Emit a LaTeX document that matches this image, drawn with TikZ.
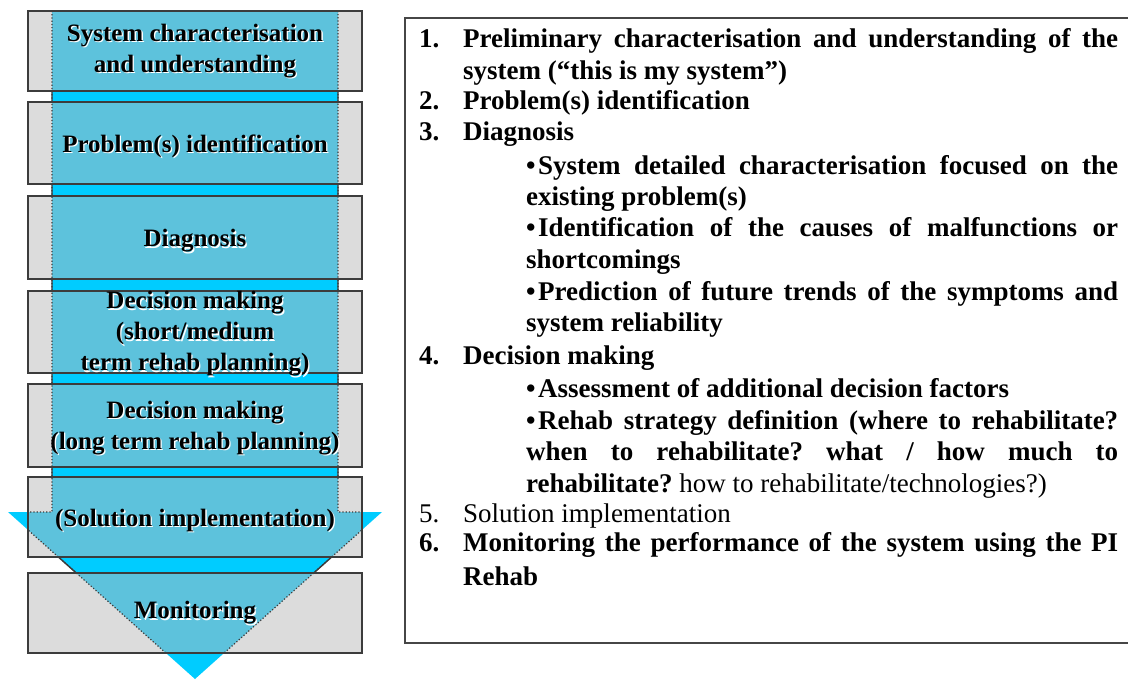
\documentclass[tikz,border=0pt]{standalone}
\usepackage{fontspec}
\setmainfont{Liberation Serif}
\frenchspacing
\definecolor{flowcyan}{RGB}{0,204,255}
\definecolor{boxgray}{RGB}{186,186,186}
\definecolor{edgegray}{RGB}{60,60,60}
\definecolor{framegray}{RGB}{70,70,70}
\begin{document}
\begin{tikzpicture}[x=1pt,y=-1pt,
  stagebox/.style={fill=boxgray,fill opacity=0.5},
  stageedge/.style={draw=edgegray,line width=1.4pt},
  stagetxt/.style={inner sep=0pt,align=center,font=\fontsize{25}{31}\selectfont\bfseries},
  stageshade/.style={stagetxt,text=white,xshift=1.3pt,yshift=-1.3pt},
  listtxt/.style={inner sep=0pt,anchor=mid west,font=\fontsize{27}{31}\selectfont\bfseries},
  listreg/.style={listtxt,font=\fontsize{27}{31}\selectfont},
  dot/.style={inner sep=0pt,anchor=mid west,font=\fontsize{27}{31}\selectfont\bfseries}
]
\useasboundingbox (0,0) rectangle (1128,680);
\clip (0,0) rectangle (1128,680);
\fill[white] (0,0) rectangle (1128,680);

% ---------- process arrow (shaft + head) ----------
\fill[flowcyan] (52,11) -- (338,11) -- (338,512) -- (382,512) -- (195,679)
  -- (8,512) -- (52,512) -- cycle;

% ---------- stage boxes (see-through fill) ----------
\foreach \t/\b in {11/91,102/184,196/279,291/373,384/467,477/557,573/653}
  \fill[stagebox] (28,\t) rectangle (362,\b);

% arrow outline, dotted where it shows through the boxes
\begin{scope}
  \clip (28,11) rectangle (362,653);
  \draw[edgegray,line width=1.2pt,dotted]
    (52,11) -- (52,512) -- (8,512) -- (195,679) -- (382,512) -- (338,512) -- (338,11);
\end{scope}
% and solid in the gaps between the boxes
\begin{scope}
  \clip (28,91) rectangle (362,102) (28,184) rectangle (362,196)
        (28,279) rectangle (362,291) (28,373) rectangle (362,384)
        (28,467) rectangle (362,477) (28,557) rectangle (362,573);
  \draw[edgegray,line width=1.4pt]
    (52,11) -- (52,512) -- (8,512) -- (195,679) -- (382,512) -- (338,512) -- (338,11);
\end{scope}

\foreach \t/\b in {11/91,102/184,196/279,291/373,384/467,477/557,573/653}
  \draw[stageedge] (28,\t) rectangle (362,\b);

% ---------- stage labels ----------
\node[stageshade] (s1s) at (195,51) {System characterisation\\and understanding};
\node[stagetxt]   (s1)  at (195,51) {System characterisation\\and understanding};
\node[stageshade] (s2s) at (195,146) {Problem(s) identification};
\node[stagetxt]   (s2)  at (195,146) {Problem(s) identification};
\node[stageshade] (s3s) at (195,241) {Diagnosis};
\node[stagetxt]   (s3)  at (195,241) {Diagnosis};
\node[stageshade] (s4s) at (195,334) {Decision making\\(short/medium\\term rehab planning)};
\node[stagetxt]   (s4)  at (195,334) {Decision making\\(short/medium\\term rehab planning)};
\node[stageshade] (s5s) at (195,428) {Decision making\\(long term rehab planning)};
\node[stagetxt]   (s5)  at (195,428) {Decision making\\(long term rehab planning)};
\node[stageshade] (s6s) at (195,520) {(Solution implementation)};
\node[stagetxt]   (s6)  at (195,520) {(Solution implementation)};
\node[stageshade] (s7s) at (195,613) {Monitoring};
\node[stagetxt]   (s7)  at (195,613) {Monitoring};

% ---------- description frame ----------
\draw[framegray,line width=2.2pt] (405,18) rectangle (1145,643);

% ---------- description list ----------
\node[listtxt] (n1) at (419,45) {1.};
\node[listtxt] (l1) at (463,45) {\makebox[655pt][s]{Preliminary characterisation and understanding of the}};
\node[listtxt] (l2) at (463,77) {system (“this is my system”)};
\node[listtxt] (n2) at (419,107) {2.};
\node[listtxt] (l3) at (463,107) {Problem(s) identification};
\node[listtxt] (n3) at (419,138) {3.};
\node[listtxt] (l4) at (463,138) {Diagnosis};
\node[dot]     (b1) at (526,172) {•};
\node[listtxt] (l5) at (538,172) {\makebox[580pt][s]{System detailed characterisation focused on the}};
\node[listtxt] (l6) at (526,203) {existing problem(s)};
\node[dot]     (b2) at (526,234) {•};
\node[listtxt] (l7) at (538,234) {\makebox[580pt][s]{Identification of the causes of malfunctions or}};
\node[listtxt] (l8) at (526,266) {shortcomings};
\node[dot]     (b3) at (526,298) {•};
\node[listtxt] (l9) at (538,298) {\makebox[580pt][s]{Prediction of future trends of the symptoms and}};
\node[listtxt] (l10) at (526,329) {system reliability};
\node[listtxt] (n4) at (419,362) {4.};
\node[listtxt] (l11) at (463,362) {Decision making};
\node[dot]     (b4) at (526,395) {•};
\node[listtxt] (l12) at (538,395) {Assessment of additional decision factors};
\node[dot]     (b5) at (526,427) {•};
\node[listtxt] (l13) at (538,427) {\makebox[580pt][s]{Rehab strategy definition (where to rehabilitate?}};
\node[listtxt] (l14) at (526,458) {\makebox[592pt][s]{when to rehabilitate? what / how much to}};
\node[listtxt] (l15) at (526,490) {rehabilitate? {\mdseries how to rehabilitate/technologies?)}};
\node[listreg] (n5) at (419,520) {5.};
\node[listreg] (l16) at (463,520) {Solution implementation};
\node[listtxt] (n6) at (419,549) {6.};
\node[listtxt] (l17) at (463,549) {\makebox[655pt][s]{Monitoring the performance of the system using the PI}};
\node[listtxt] (l18) at (463,583) {Rehab};
\end{tikzpicture}
\end{document}
